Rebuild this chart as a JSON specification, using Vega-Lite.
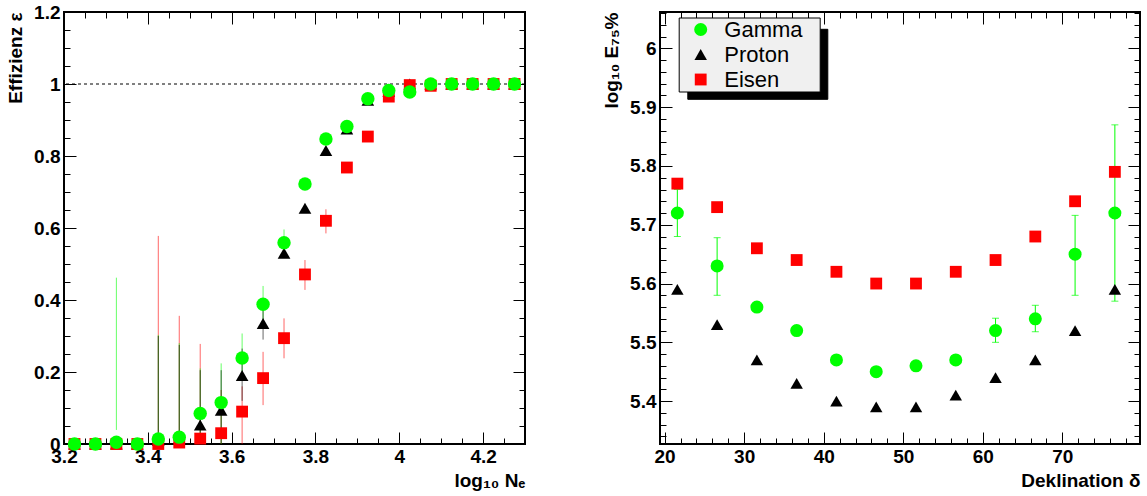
{
  "$schema": "https://vega.github.io/schema/vega-lite/v6.json",
  "background": "white",
  "padding": {"left": 5, "top": 2, "right": 0, "bottom": 0},
  "config": {
    "font": "Liberation Sans",
    "view": {"stroke": "black", "strokeWidth": 2},
    "axis": {"grid": false, "domain": false, "labelFont": "Liberation Sans", "labelFontSize": 19, "labelFontWeight": "bold", "labelColor": "black", "titleFont": "Liberation Sans", "titleFontSize": 19, "titleFontWeight": "bold", "titleColor": "black", "tickColor": "black", "tickWidth": 1, "labelFlush": false, "labelOverlap": false}
  },
  "datasets": {
    "eff": [
      {"s": "Proton", "x": 3.225, "y": 0}, {"s": "Proton", "x": 3.275, "y": 0}, {"s": "Proton", "x": 3.325, "y": 0}, {"s": "Proton", "x": 3.375, "y": 0},
      {"s": "Proton", "x": 3.425, "y": 0.01, "lo": 0, "hi": 0.3}, {"s": "Proton", "x": 3.475, "y": 0.015, "lo": 0, "hi": 0.275},
      {"s": "Proton", "x": 3.525, "y": 0.053, "lo": 0, "hi": 0.205}, {"s": "Proton", "x": 3.575, "y": 0.094, "lo": 0, "hi": 0.205},
      {"s": "Proton", "x": 3.625, "y": 0.19, "lo": 0.12, "hi": 0.265}, {"s": "Proton", "x": 3.675, "y": 0.335, "lo": 0.29, "hi": 0.375},
      {"s": "Proton", "x": 3.725, "y": 0.53}, {"s": "Proton", "x": 3.775, "y": 0.655}, {"s": "Proton", "x": 3.825, "y": 0.815},
      {"s": "Proton", "x": 3.875, "y": 0.875}, {"s": "Proton", "x": 3.925, "y": 0.955}, {"s": "Proton", "x": 3.975, "y": 0.98},
      {"s": "Proton", "x": 4.025, "y": 1}, {"s": "Proton", "x": 4.075, "y": 1}, {"s": "Proton", "x": 4.125, "y": 1},
      {"s": "Proton", "x": 4.175, "y": 1}, {"s": "Proton", "x": 4.225, "y": 1}, {"s": "Proton", "x": 4.275, "y": 1},
      {"s": "Eisen", "x": 3.225, "y": 0}, {"s": "Eisen", "x": 3.275, "y": 0}, {"s": "Eisen", "x": 3.325, "y": 0}, {"s": "Eisen", "x": 3.375, "y": 0},
      {"s": "Eisen", "x": 3.425, "y": 0, "lo": 0, "hi": 0.578}, {"s": "Eisen", "x": 3.475, "y": 0.004, "lo": 0, "hi": 0.356},
      {"s": "Eisen", "x": 3.525, "y": 0.015, "lo": 0, "hi": 0.278}, {"s": "Eisen", "x": 3.575, "y": 0.03, "lo": 0, "hi": 0.15},
      {"s": "Eisen", "x": 3.625, "y": 0.09, "lo": 0, "hi": 0.16}, {"s": "Eisen", "x": 3.675, "y": 0.183, "lo": 0.108, "hi": 0.256},
      {"s": "Eisen", "x": 3.725, "y": 0.294, "lo": 0.238, "hi": 0.349}, {"s": "Eisen", "x": 3.775, "y": 0.471, "lo": 0.428, "hi": 0.511},
      {"s": "Eisen", "x": 3.825, "y": 0.62, "lo": 0.585, "hi": 0.652}, {"s": "Eisen", "x": 3.875, "y": 0.768},
      {"s": "Eisen", "x": 3.925, "y": 0.854}, {"s": "Eisen", "x": 3.975, "y": 0.965}, {"s": "Eisen", "x": 4.025, "y": 0.997},
      {"s": "Eisen", "x": 4.075, "y": 0.995}, {"s": "Eisen", "x": 4.125, "y": 1}, {"s": "Eisen", "x": 4.175, "y": 1},
      {"s": "Eisen", "x": 4.225, "y": 1}, {"s": "Eisen", "x": 4.275, "y": 1},
      {"s": "Gamma", "x": 3.225, "y": 0}, {"s": "Gamma", "x": 3.275, "y": 0},
      {"s": "Gamma", "x": 3.325, "y": 0.005, "lo": 0.039, "hi": 0.462}, {"s": "Gamma", "x": 3.375, "y": 0},
      {"s": "Gamma", "x": 3.425, "y": 0.014, "lo": 0, "hi": 0.303}, {"s": "Gamma", "x": 3.475, "y": 0.019, "lo": 0.03, "hi": 0.28},
      {"s": "Gamma", "x": 3.525, "y": 0.085, "lo": 0, "hi": 0.21}, {"s": "Gamma", "x": 3.575, "y": 0.115, "lo": 0, "hi": 0.224},
      {"s": "Gamma", "x": 3.625, "y": 0.239, "lo": 0.19, "hi": 0.307}, {"s": "Gamma", "x": 3.675, "y": 0.388, "lo": 0.34, "hi": 0.439},
      {"s": "Gamma", "x": 3.725, "y": 0.559, "lo": 0.52, "hi": 0.596}, {"s": "Gamma", "x": 3.775, "y": 0.722},
      {"s": "Gamma", "x": 3.825, "y": 0.847}, {"s": "Gamma", "x": 3.875, "y": 0.882}, {"s": "Gamma", "x": 3.925, "y": 0.959},
      {"s": "Gamma", "x": 3.975, "y": 0.982}, {"s": "Gamma", "x": 4.025, "y": 0.978}, {"s": "Gamma", "x": 4.075, "y": 1},
      {"s": "Gamma", "x": 4.125, "y": 1}, {"s": "Gamma", "x": 4.175, "y": 1}, {"s": "Gamma", "x": 4.225, "y": 1}, {"s": "Gamma", "x": 4.275, "y": 1}
    ],
    "dec": [
      {"s": "Proton", "x": 21.6, "y": 5.59}, {"s": "Proton", "x": 26.6, "y": 5.53}, {"s": "Proton", "x": 31.6, "y": 5.47},
      {"s": "Proton", "x": 36.6, "y": 5.43}, {"s": "Proton", "x": 41.6, "y": 5.40}, {"s": "Proton", "x": 46.6, "y": 5.39},
      {"s": "Proton", "x": 51.6, "y": 5.39}, {"s": "Proton", "x": 56.6, "y": 5.41}, {"s": "Proton", "x": 61.6, "y": 5.44},
      {"s": "Proton", "x": 66.6, "y": 5.47}, {"s": "Proton", "x": 71.6, "y": 5.52}, {"s": "Proton", "x": 76.6, "y": 5.59},
      {"s": "Eisen", "x": 21.6, "y": 5.77}, {"s": "Eisen", "x": 26.6, "y": 5.73}, {"s": "Eisen", "x": 31.6, "y": 5.66},
      {"s": "Eisen", "x": 36.6, "y": 5.64}, {"s": "Eisen", "x": 41.6, "y": 5.62}, {"s": "Eisen", "x": 46.6, "y": 5.60},
      {"s": "Eisen", "x": 51.6, "y": 5.60}, {"s": "Eisen", "x": 56.6, "y": 5.62}, {"s": "Eisen", "x": 61.6, "y": 5.64},
      {"s": "Eisen", "x": 66.6, "y": 5.68}, {"s": "Eisen", "x": 71.6, "y": 5.74}, {"s": "Eisen", "x": 76.6, "y": 5.79},
      {"s": "Gamma", "x": 21.6, "y": 5.72, "lo": 5.68, "hi": 5.76}, {"s": "Gamma", "x": 26.6, "y": 5.63, "lo": 5.58, "hi": 5.678},
      {"s": "Gamma", "x": 31.6, "y": 5.56}, {"s": "Gamma", "x": 36.6, "y": 5.52}, {"s": "Gamma", "x": 41.6, "y": 5.47},
      {"s": "Gamma", "x": 46.6, "y": 5.45}, {"s": "Gamma", "x": 51.6, "y": 5.46}, {"s": "Gamma", "x": 56.6, "y": 5.47},
      {"s": "Gamma", "x": 61.6, "y": 5.52, "lo": 5.50, "hi": 5.541}, {"s": "Gamma", "x": 66.6, "y": 5.54, "lo": 5.518, "hi": 5.563},
      {"s": "Gamma", "x": 71.6, "y": 5.65, "lo": 5.58, "hi": 5.716}, {"s": "Gamma", "x": 76.6, "y": 5.72, "lo": 5.57, "hi": 5.87}
    ]
  },
  "spacing": 74,
  "resolve": {"scale": {"color": "independent", "shape": "independent", "size": "independent", "strokeDash": "independent"}},
  "hconcat": [
    {
      "width": 461,
      "height": 432,
      "data": {"name": "eff"},
      "resolve": {"axis": {"x": "independent", "y": "independent"}},
      "layer": [
        {
          "data": {"values": [{"level": 1}]},
          "mark": {"type": "rule", "strokeDash": [3, 3], "color": "black", "strokeWidth": 1},
          "encoding": {"y": {"field": "level", "type": "quantitative", "scale": {"domain": [0, 1.2], "nice": false, "zero": false}, "axis": null}}
        },
        {
          "transform": [{"filter": "isValid(datum.lo)"}],
          "mark": {"type": "rule", "strokeWidth": 1, "opacity": 0.6},
          "encoding": {
            "x": {"field": "x", "type": "quantitative", "scale": {"domain": [3.2, 4.3], "nice": false, "zero": false},
                  "axis": {"orient": "bottom", "values": [3.2, 3.25, 3.3, 3.35, 3.4, 3.45, 3.5, 3.55, 3.6, 3.65, 3.7, 3.75, 3.8, 3.85, 3.9, 3.95, 4.0, 4.05, 4.1, 4.15, 4.2, 4.25, 4.3], "labels": false, "tickSize": -6, "title": null}},
            "y": {"field": "lo", "type": "quantitative", "scale": {"domain": [0, 1.2], "nice": false, "zero": false},
                  "axis": {"orient": "left", "values": [0, 0.05, 0.1, 0.15, 0.2, 0.25, 0.3, 0.35, 0.4, 0.45, 0.5, 0.55, 0.6, 0.65, 0.7, 0.75, 0.8, 0.85, 0.9, 0.95, 1.0, 1.05, 1.1, 1.15, 1.2], "labels": false, "tickSize": -6, "title": null}},
            "y2": {"field": "hi"},
            "color": {"field": "s", "type": "nominal", "scale": {"domain": ["Gamma", "Proton", "Eisen"], "range": ["#00ff00", "#000000", "#ff0000"]}, "legend": null},
            "order": {"field": "s"}
          }
        },
        {
          "mark": {"type": "point", "filled": true, "opacity": 1},
          "encoding": {
            "x": {"field": "x", "type": "quantitative", "scale": {"domain": [3.2, 4.3], "nice": false, "zero": false},
                  "axis": {"orient": "bottom", "values": [3.2, 3.4, 3.6, 3.8, 4.0, 4.2], "format": ".1~f", "tickSize": -12, "labelPadding": 15, "title": "log₁₀ Nₑ", "titleAnchor": "end", "titlePadding": 5}},
            "y": {"field": "y", "type": "quantitative", "scale": {"domain": [0, 1.2], "nice": false, "zero": false},
                  "axis": {"orient": "left", "values": [0, 0.2, 0.4, 0.6, 0.8, 1.0, 1.2], "format": ".1~f", "tickSize": -12, "labelPadding": 16, "title": "Effizienz ε", "titleAnchor": "end", "titlePadding": 8}},
            "color": {"field": "s", "type": "nominal", "scale": {"domain": ["Gamma", "Proton", "Eisen"], "range": ["#00ff00", "#000000", "#ff0000"]}, "legend": null},
            "shape": {"field": "s", "type": "nominal", "scale": {"domain": ["Gamma", "Proton", "Eisen"], "range": ["circle", "triangle-up", "square"]}, "legend": null},
            "size": {"field": "s", "type": "nominal", "scale": {"domain": ["Gamma", "Proton", "Eisen"], "range": [180, 140, 140]}, "legend": null}
          }
        },
        {
          "mark": {"type": "point", "opacity": 0},
          "encoding": {
            "x": {"field": "x", "type": "quantitative", "scale": {"domain": [3.2, 4.3], "nice": false, "zero": false},
                  "axis": {"orient": "top", "values": [3.2, 3.4, 3.6, 3.8, 4.0, 4.2], "labels": false, "tickSize": -12, "title": null}},
            "y": {"field": "y", "type": "quantitative", "scale": {"domain": [0, 1.2], "nice": false, "zero": false},
                  "axis": {"orient": "right", "values": [0, 0.2, 0.4, 0.6, 0.8, 1.0, 1.2], "labels": false, "tickSize": -12, "title": null}}
          }
        },
        {
          "mark": {"type": "point", "opacity": 0},
          "encoding": {
            "x": {"field": "x", "type": "quantitative", "scale": {"domain": [3.2, 4.3], "nice": false, "zero": false},
                  "axis": {"orient": "top", "values": [3.2, 3.25, 3.3, 3.35, 3.4, 3.45, 3.5, 3.55, 3.6, 3.65, 3.7, 3.75, 3.8, 3.85, 3.9, 3.95, 4.0, 4.05, 4.1, 4.15, 4.2, 4.25, 4.3], "labels": false, "tickSize": -6, "title": null}},
            "y": {"field": "y", "type": "quantitative", "scale": {"domain": [0, 1.2], "nice": false, "zero": false},
                  "axis": {"orient": "right", "values": [0, 0.05, 0.1, 0.15, 0.2, 0.25, 0.3, 0.35, 0.4, 0.45, 0.5, 0.55, 0.6, 0.65, 0.7, 0.75, 0.8, 0.85, 0.9, 0.95, 1.0, 1.05, 1.1, 1.15, 1.2], "labels": false, "tickSize": -6, "title": null}}
          }
        }
      ]
    },
    {
      "width": 480,
      "height": 432,
      "data": {"name": "dec"},
      "resolve": {"axis": {"x": "independent", "y": "independent"}},
      "layer": [
        {
          "transform": [{"filter": "isValid(datum.lo)"}],
          "mark": {"type": "errorbar", "ticks": true, "size": 7, "thickness": 1, "color": "#00ff00"},
          "encoding": {
            "x": {"field": "x", "type": "quantitative", "scale": {"domain": [19.42, 79.76], "nice": false, "zero": false}, "axis": null},
            "y": {"field": "lo", "type": "quantitative", "scale": {"domain": [5.327, 6.062], "nice": false, "zero": false}, "axis": null},
            "y2": {"field": "hi"}
          }
        },
        {
          "mark": {"type": "point", "filled": true, "opacity": 1},
          "encoding": {
            "x": {"field": "x", "type": "quantitative", "scale": {"domain": [19.42, 79.76], "nice": false, "zero": false},
                  "axis": {"orient": "bottom", "values": [20, 30, 40, 50, 60, 70], "format": "d", "tickSize": -12, "labelPadding": 15, "title": "Deklination δ", "titleAnchor": "end", "titlePadding": 5}},
            "y": {"field": "y", "type": "quantitative", "scale": {"domain": [5.327, 6.062], "nice": false, "zero": false},
                  "axis": {"orient": "left", "values": [5.4, 5.5, 5.6, 5.7, 5.8, 5.9, 6.0], "format": ".1~f", "tickSize": -12, "labelPadding": 16, "title": "log₁₀ E₇₅%", "titleAnchor": "end", "titlePadding": 8}},
            "color": {"field": "s", "type": "nominal", "scale": {"domain": ["Gamma", "Proton", "Eisen"], "range": ["#00ff00", "#000000", "#ff0000"]},
                      "legend": {"orient": "none", "legendX": 18.7, "legendY": 5.5, "zindex": 2, "title": null, "fillColor": "#f0f0f0", "strokeColor": "black", "padding": 1, "labelFont": "Liberation Sans", "labelFontSize": 22, "labelFontWeight": "normal", "labelColor": "black", "symbolSize": 130, "symbolOffset": 10, "labelOffset": 12.6, "rowPadding": 3, "symbolStrokeWidth": 0, "labelExpr": "datum.label + '\u2800'"}},
            "shape": {"field": "s", "type": "nominal", "scale": {"domain": ["Gamma", "Proton", "Eisen"], "range": ["circle", "triangle-up", "square"]},
                      "legend": {"orient": "none", "legendX": 18.7, "legendY": 5.5, "zindex": 2, "title": null, "fillColor": "#f0f0f0", "strokeColor": "black", "padding": 1, "labelFont": "Liberation Sans", "labelFontSize": 22, "labelFontWeight": "normal", "labelColor": "black", "symbolSize": 130, "symbolOffset": 10, "labelOffset": 12.6, "rowPadding": 3, "symbolStrokeWidth": 0, "labelExpr": "datum.label + '\u2800'"}},
            "size": {"field": "s", "type": "nominal", "scale": {"domain": ["Gamma", "Proton", "Eisen"], "range": [170, 140, 140]}, "legend": null}
          }
        },
        {
          "data": {"values": [{"k": "a"}, {"k": "b"}]},
          "mark": {"type": "rule", "strokeOpacity": 0},
          "encoding": {
            "x": {"datum": 50, "type": "quantitative", "scale": {"domain": [19.42, 79.76], "nice": false, "zero": false}, "axis": null},
            "strokeDash": {"field": "k", "type": "nominal",
                           "legend": {"orient": "none", "legendX": 27.3, "legendY": 16.8, "zindex": 1, "title": null, "fillColor": "black", "strokeColor": "black", "padding": 0, "columns": 2, "columnPadding": 0, "symbolType": "square", "symbolSize": 4830, "symbolOpacity": 0, "symbolStrokeWidth": 0, "symbolOffset": 0, "labelOffset": 0, "labelFontSize": 1, "labelExpr": "''"}}
          }
        },
        {
          "mark": {"type": "point", "opacity": 0},
          "encoding": {
            "x": {"field": "x", "type": "quantitative", "scale": {"domain": [19.42, 79.76], "nice": false, "zero": false},
                  "axis": {"orient": "bottom", "values": [20, 22, 24, 26, 28, 30, 32, 34, 36, 38, 40, 42, 44, 46, 48, 50, 52, 54, 56, 58, 60, 62, 64, 66, 68, 70, 72, 74, 76, 78], "labels": false, "tickSize": -6, "title": null}},
            "y": {"field": "y", "type": "quantitative", "scale": {"domain": [5.327, 6.062], "nice": false, "zero": false},
                  "axis": {"orient": "left", "values": [5.34, 5.36, 5.38, 5.4, 5.42, 5.44, 5.46, 5.48, 5.5, 5.52, 5.54, 5.56, 5.58, 5.6, 5.62, 5.64, 5.66, 5.68, 5.7, 5.72, 5.74, 5.76, 5.78, 5.8, 5.82, 5.84, 5.86, 5.88, 5.9, 5.92, 5.94, 5.96, 5.98, 6.0, 6.02, 6.04, 6.06], "labels": false, "tickSize": -6, "title": null}}
          }
        },
        {
          "mark": {"type": "point", "opacity": 0},
          "encoding": {
            "x": {"field": "x", "type": "quantitative", "scale": {"domain": [19.42, 79.76], "nice": false, "zero": false},
                  "axis": {"orient": "top", "values": [20, 30, 40, 50, 60, 70], "labels": false, "tickSize": -12, "title": null}},
            "y": {"field": "y", "type": "quantitative", "scale": {"domain": [5.327, 6.062], "nice": false, "zero": false},
                  "axis": {"orient": "right", "values": [5.4, 5.5, 5.6, 5.7, 5.8, 5.9, 6.0], "labels": false, "tickSize": -12, "title": null}}
          }
        },
        {
          "mark": {"type": "point", "opacity": 0},
          "encoding": {
            "x": {"field": "x", "type": "quantitative", "scale": {"domain": [19.42, 79.76], "nice": false, "zero": false},
                  "axis": {"orient": "top", "values": [20, 22, 24, 26, 28, 30, 32, 34, 36, 38, 40, 42, 44, 46, 48, 50, 52, 54, 56, 58, 60, 62, 64, 66, 68, 70, 72, 74, 76, 78], "labels": false, "tickSize": -6, "title": null}},
            "y": {"field": "y", "type": "quantitative", "scale": {"domain": [5.327, 6.062], "nice": false, "zero": false},
                  "axis": {"orient": "right", "values": [5.34, 5.36, 5.38, 5.4, 5.42, 5.44, 5.46, 5.48, 5.5, 5.52, 5.54, 5.56, 5.58, 5.6, 5.62, 5.64, 5.66, 5.68, 5.7, 5.72, 5.74, 5.76, 5.78, 5.8, 5.82, 5.84, 5.86, 5.88, 5.9, 5.92, 5.94, 5.96, 5.98, 6.0, 6.02, 6.04, 6.06], "labels": false, "tickSize": -6, "title": null}}
          }
        }
      ]
    }
  ]
}
